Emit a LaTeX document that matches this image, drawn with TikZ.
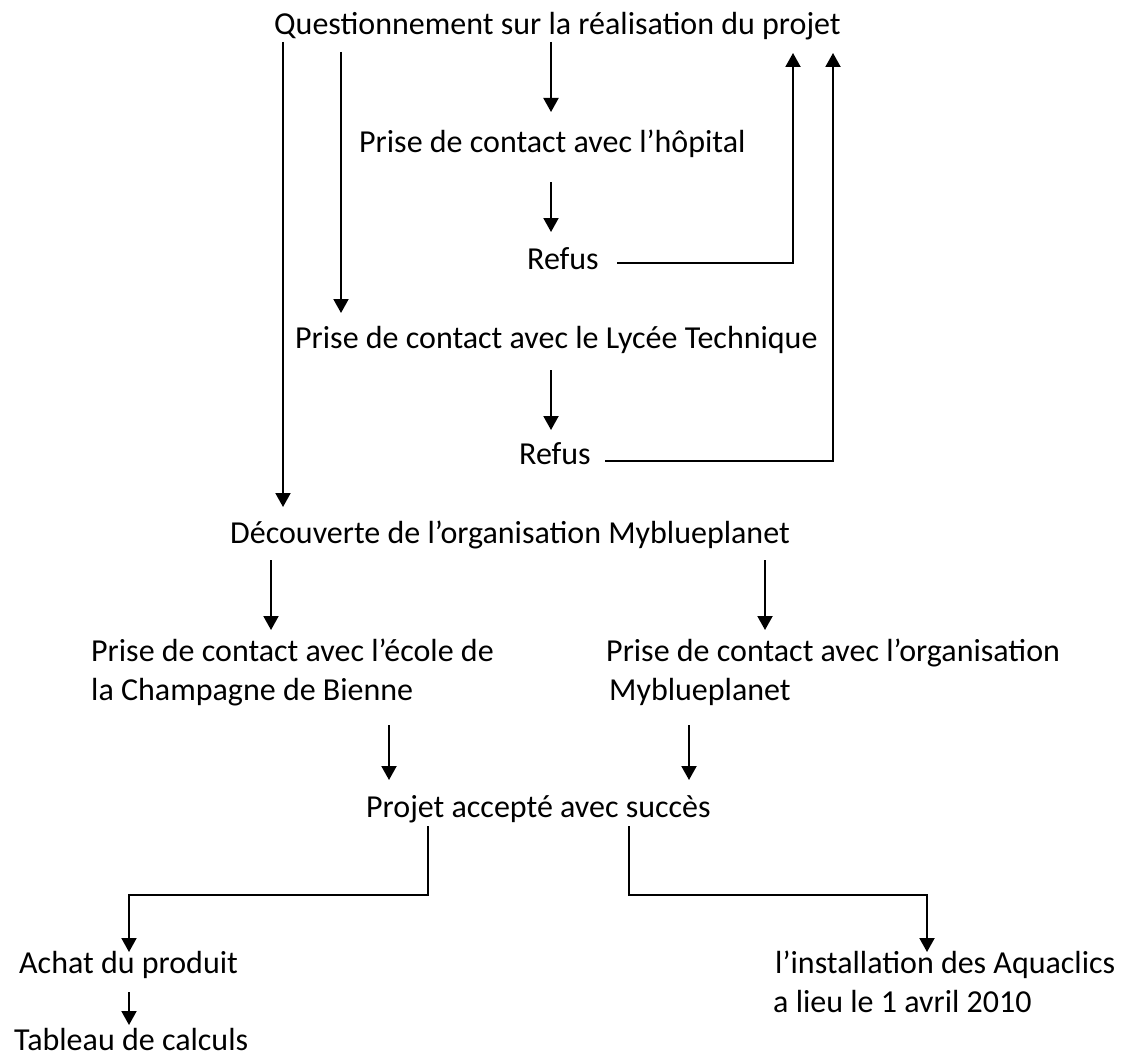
\documentclass[tikz,border=0pt]{standalone}
\usepackage{fontspec}
\setmainfont{Carlito}
\usetikzlibrary{arrows.meta}
\begin{document}
\begin{tikzpicture}[x=1pt,y=-1pt,
  lbl/.style={inner sep=0pt, anchor=base west, font=\fontsize{32}{39}\selectfont},
  lbl2/.style={lbl, align=left},
  conn/.style={line width=2pt},
  arr/.style={conn, -{Triangle[length=14pt,width=15pt]}}]
\useasboundingbox[fill=white] (0,0) rectangle (1121,1054);

% nodes (multi-line nodes are placed by the baseline of their last line)
\node[lbl] (q) at (274,35) {Questionnement sur la réalisation du projet};
\node[lbl] (hop) at (359,153) {Prise de contact avec l’hôpital};
\node[lbl] (ref1) at (527,269) {Refus};
\node[lbl] (lyc) at (295,348) {Prise de contact avec le Lycée Technique};
\node[lbl] (ref2) at (519,464) {Refus};
\node[lbl] (dec) at (230,543) {Découverte de l’organisation Myblueplanet};
\node[lbl2] (ecole) at (91,700) {Prise de contact avec l’école de\\la Champagne de Bienne};
\node[lbl2] (org) at (606,700) {Prise de contact avec l’organisation\\\hspace*{3pt}Myblueplanet};
\node[lbl] (proj) at (366,817) {Projet accepté avec succès};
\node[lbl] (achat) at (19,973) {Achat du produit};
\node[lbl] (tab) at (14,1050) {Tableau de calculs};
\node[lbl2] (inst) at (773,1012) {\hspace*{2pt}l’installation des Aquaclics\\a lieu le 1 avril 2010};

% connector end points
\coordinate (q1) at (551,42);   \coordinate (hop1) at (551,112);
\coordinate (hop2) at (551,182); \coordinate (ref1a) at (551,232);
\coordinate (ref1b) at (617,263); \coordinate (q2) at (793,53);
\coordinate (q3) at (341,52);   \coordinate (lyc1) at (341,313);
\coordinate (lyc2) at (551,370); \coordinate (ref2a) at (551,430);
\coordinate (ref2b) at (605,461); \coordinate (q4) at (833,53);
\coordinate (q5) at (283,42);   \coordinate (dec1) at (283,507);
\coordinate (dec2) at (271,560); \coordinate (ecole1) at (271,630);
\coordinate (dec3) at (765,560); \coordinate (org1) at (765,630);
\coordinate (ecole2) at (389,725); \coordinate (proj1) at (389,780);
\coordinate (org2) at (689,725); \coordinate (proj2) at (689,780);
\coordinate (proj3) at (428,826); \coordinate (achat1) at (129,952);
\coordinate (proj4) at (629,826); \coordinate (inst1) at (927,952);
\coordinate (achat2) at (129,992); \coordinate (tab1) at (129,1025);

% connectors
\draw[arr] (q1) -- (hop1);
\draw[arr] (hop2) -- (ref1a);
\draw[arr] (ref1b) -| (q2);
\draw[arr] (q3) -- (lyc1);
\draw[arr] (lyc2) -- (ref2a);
\draw[arr] (ref2b) -| (q4);
\draw[arr] (q5) -- (dec1);
\draw[arr] (dec2) -- (ecole1);
\draw[arr] (dec3) -- (org1);
\draw[arr] (ecole2) -- (proj1);
\draw[arr] (org2) -- (proj2);
\draw[arr] (proj3) |- (129,895) -- (achat1);
\draw[arr] (proj4) |- (927,895) -- (inst1);
\draw[arr] (achat2) -- (tab1);
\end{tikzpicture}
\end{document}
